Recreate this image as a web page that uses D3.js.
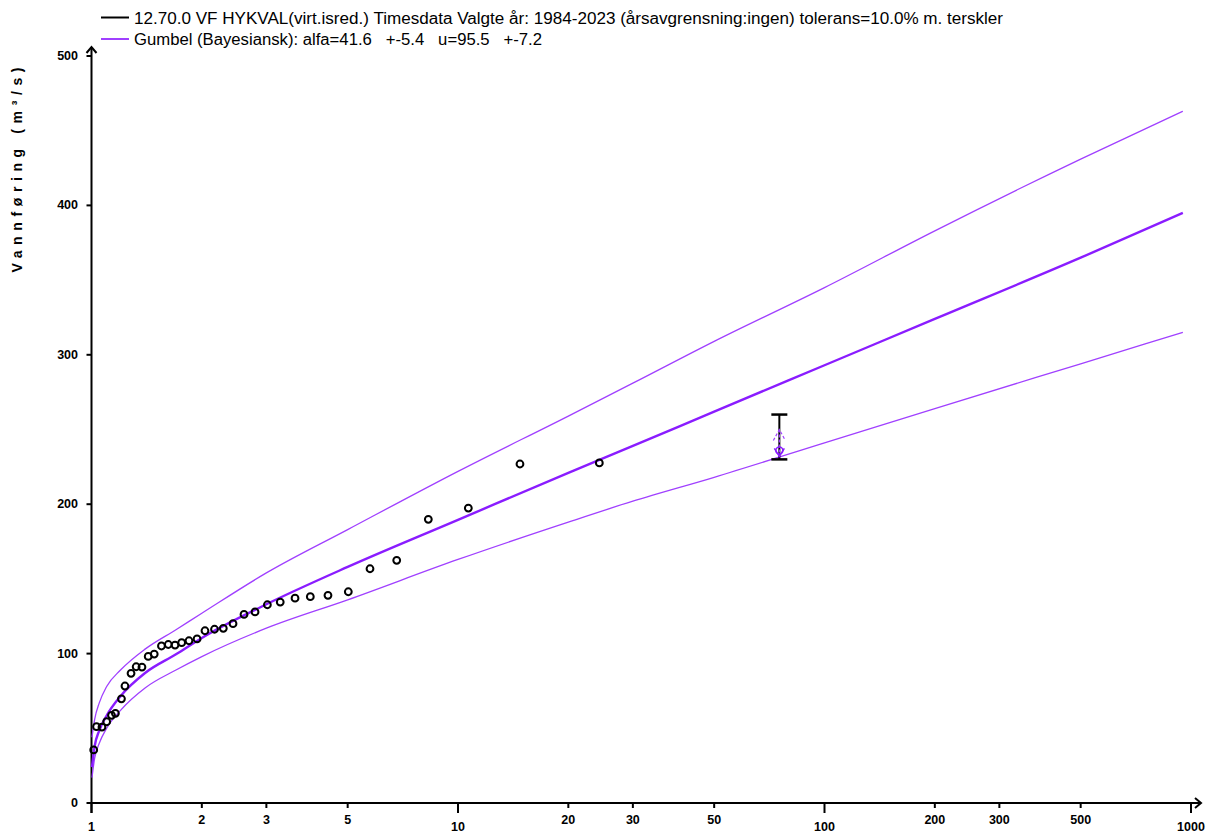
<!DOCTYPE html>
<html>
<head>
<meta charset="utf-8">
<script src="https://cdn.jsdelivr.net/npm/d3@7"></script>
<style>
  body { margin: 0; background: #fff; }
  svg { display: block; }
  text { font-family: "Liberation Sans", Arial, sans-serif; }
</style>
</head>
<body>
<div id="chart"></div>
<script>
// observed annual maxima (return period, flow m3/s)
var obsT = [1.014, 1.032, 1.068, 1.100, 1.134, 1.162, 1.207, 1.234, 1.282, 1.324,
            1.373, 1.428, 1.483, 1.552, 1.620, 1.690, 1.762, 1.845, 1.941, 2.040,
            2.166, 2.289, 2.433, 2.607, 2.794, 3.019, 3.273, 3.592, 3.954, 4.418,
            5.020, 5.753, 6.804, 8.299, 10.67, 14.76, 24.30];
var obsQ = [35.5, 51.1, 50.8, 54.4, 58.7, 60.0, 69.7, 78.3, 86.8, 91.2,
            91.0, 98.1, 99.7, 105.1, 106.1, 105.7, 107.3, 108.6, 109.8, 115.3,
            116.3, 116.9, 120.0, 126.2, 127.9, 132.7, 134.5, 137.1, 138.1, 139.0,
            141.4, 156.8, 162.4, 189.9, 197.4, 226.9, 227.6];

// fitted Gumbel curve and its bands
var curveT = [1.003, 1.02, 1.05, 1.1, 1.2, 1.4, 1.7, 2, 3, 5, 10, 20, 30, 50, 100, 200, 500, 950];
var fitQ   = [24, 38, 48.5, 58.5, 71.5, 87, 99.5, 110.5, 133, 158, 189.5, 221, 239, 262, 293, 324, 365, 395];
var upperQ = [44, 56, 67, 78, 89, 103, 116, 127, 154, 183, 222, 259, 281, 309, 345, 383, 431, 463];
var lowerQ = [17, 30, 40, 50, 62, 77, 89, 98, 117, 136, 163, 188, 202, 218, 241, 264, 294, 315];

// single flood with uncertainty interval
var eventT = 75.3;
var eventRange = [230, 260];
var eventMarker = [236, 250];

var xTicks = [1, 2, 3, 5, 10, 20, 30, 50, 100, 200, 300, 500, 1000];
var majorTicks = [1, 10, 100, 1000];
var yTicks = [0, 100, 200, 300, 400, 500];

var legendLabels = [
    '12.70.0 VF HYKVAL(virt.isred.) Timesdata Valgte år: 1984-2023 (årsavgrensning:ingen) tolerans=10.0% m. terskler',
    'Gumbel (Bayesiansk): alfa=41.6   +-5.4   u=95.5   +-7.2'
];

var width = 1218, height = 834;
var purple = '#8a1cff', purpleLight = '#a040ff';

var svg = d3.select('#chart').append('svg')
    .attr('width', width)
    .attr('height', height);

var x = d3.scaleLog().domain([1, 1000]).range([91.5, 1191]);
var y = d3.scaleLinear().domain([0, 500]).range([803, 56]);

// axes
var xAxis = svg.append('g');
xAxis.append('line')
    .attr('x1', x(1)).attr('x2', 1201)
    .attr('y1', y(0)).attr('y2', y(0))
    .attr('stroke', '#000').attr('stroke-width', 2);
xAxis.append('path')
    .attr('d', 'M1195,' + (y(0) - 5) + 'L1201,' + y(0) + 'L1195,' + (y(0) + 5))
    .attr('fill', 'none').attr('stroke', '#000').attr('stroke-width', 2);

xAxis.selectAll('.tick')
    .data(xTicks)
    .enter().append('line')
    .attr('x1', function(d) { return x(d); })
    .attr('x2', function(d) { return x(d); })
    .attr('y1', y(0))
    .attr('y2', function(d) { return y(0) + (majorTicks.indexOf(d) >= 0 ? 10 : 5); })
    .attr('stroke', '#000').attr('stroke-width', 2);

xAxis.selectAll('.tlabel')
    .data(xTicks)
    .enter().append('text')
    .attr('x', function(d) { return x(d); })
    .attr('y', function(d) { return majorTicks.indexOf(d) >= 0 ? 831 : 824; })
    .attr('text-anchor', 'middle')
    .attr('font-size', 12.5)
    .attr('font-weight', 'bold')
    .text(function(d) { return d; });

var yAxis = svg.append('g');
yAxis.append('line')
    .attr('x1', x(1)).attr('x2', x(1))
    .attr('y1', y(0) + 10).attr('y2', 47)
    .attr('stroke', '#000').attr('stroke-width', 2);
yAxis.append('path')
    .attr('d', 'M' + (x(1) - 5) + ',53L' + x(1) + ',47L' + (x(1) + 5) + ',53')
    .attr('fill', 'none').attr('stroke', '#000').attr('stroke-width', 2);

yAxis.selectAll('.tick')
    .data(yTicks)
    .enter().append('line')
    .attr('x1', x(1) - 5).attr('x2', x(1))
    .attr('y1', function(d) { return y(d); })
    .attr('y2', function(d) { return y(d); })
    .attr('stroke', '#000').attr('stroke-width', 2);

yAxis.selectAll('.tlabel')
    .data(yTicks)
    .enter().append('text')
    .attr('x', 78)
    .attr('y', function(d) { return y(d) + 4; })
    .attr('text-anchor', 'end')
    .attr('font-size', 12.5)
    .attr('font-weight', 'bold')
    .text(function(d) { return d; });

svg.append('text')
    .attr('transform', 'translate(22,170) rotate(-90)')
    .attr('text-anchor', 'middle')
    .attr('font-size', 14)
    .attr('font-weight', 'bold')
    .attr('textLength', 205)
    .attr('lengthAdjust', 'spacing')
    .text('Vannføring (m³/s)');

// curves
var line = d3.line()
    .x(function(d) { return x(d[0]); })
    .y(function(d) { return y(d[1]); })
    .curve(d3.curveMonotoneX);

[[upperQ, purpleLight, 1.3], [lowerQ, purpleLight, 1.3], [fitQ, purple, 2.4]].forEach(function(s) {
    svg.append('path')
        .datum(d3.zip(curveT, s[0]))
        .attr('d', line)
        .attr('fill', 'none')
        .attr('stroke', s[1])
        .attr('stroke-width', s[2]);
});

// observations
svg.append('g').selectAll('circle')
    .data(d3.zip(obsT, obsQ))
    .enter().append('circle')
    .attr('cx', function(d) { return x(d[0]); })
    .attr('cy', function(d) { return y(d[1]); })
    .attr('r', 3.4)
    .attr('fill', 'none')
    .attr('stroke', '#000')
    .attr('stroke-width', 2);

// event interval
var ex = x(eventT);
var ev = svg.append('g');
ev.append('line')
    .attr('x1', ex).attr('x2', ex)
    .attr('y1', y(eventRange[0])).attr('y2', y(eventRange[1]))
    .attr('stroke', '#000').attr('stroke-width', 2);
eventRange.forEach(function(v) {
    ev.append('line')
        .attr('x1', ex - 8).attr('x2', ex + 8)
        .attr('y1', y(v)).attr('y2', y(v))
        .attr('stroke', '#000').attr('stroke-width', 2.5);
});
var mTop = y(eventMarker[1]), mBot = y(eventMarker[0]);
ev.append('path')
    .attr('d', 'M' + (ex - 6) + ',' + (mTop + 11) + 'L' + ex + ',' + mTop + 'L' + (ex + 6) + ',' + (mTop + 11))
    .attr('fill', 'none').attr('stroke', purpleLight).attr('stroke-width', 1.2)
    .attr('stroke-dasharray', '3,2');
ev.append('line')
    .attr('x1', ex).attr('x2', ex)
    .attr('y1', mTop).attr('y2', mBot + 6)
    .attr('stroke', purpleLight).attr('stroke-width', 1.2)
    .attr('stroke-dasharray', '3,2');
ev.append('circle')
    .attr('cx', ex).attr('cy', mBot)
    .attr('r', 3.5)
    .attr('fill', 'none').attr('stroke', purple).attr('stroke-width', 1.5);
ev.append('path')
    .attr('d', 'M' + (ex - 5) + ',' + (mBot - 2) + 'L' + ex + ',' + (mBot + 6) + 'L' + (ex + 5) + ',' + (mBot - 2))
    .attr('fill', 'none').attr('stroke', purple).attr('stroke-width', 1.5);

// legend
var legend = svg.append('g');
var legendColors = ['#000', purpleLight];
var legendWidths = [869, 408];
legendLabels.forEach(function(label, i) {
    var ly = 17.5 + i * 21.5;
    legend.append('line')
        .attr('x1', 101).attr('x2', 129)
        .attr('y1', ly).attr('y2', ly)
        .attr('stroke', legendColors[i]).attr('stroke-width', 2);
    legend.append('text')
        .attr('x', 134)
        .attr('y', ly + 6)
        .attr('font-size', 16)
        .attr('textLength', legendWidths[i])
        .attr('lengthAdjust', 'spacingAndGlyphs')
        .style('white-space', 'pre')
        .text(label);
});
</script>
</body>
</html>
